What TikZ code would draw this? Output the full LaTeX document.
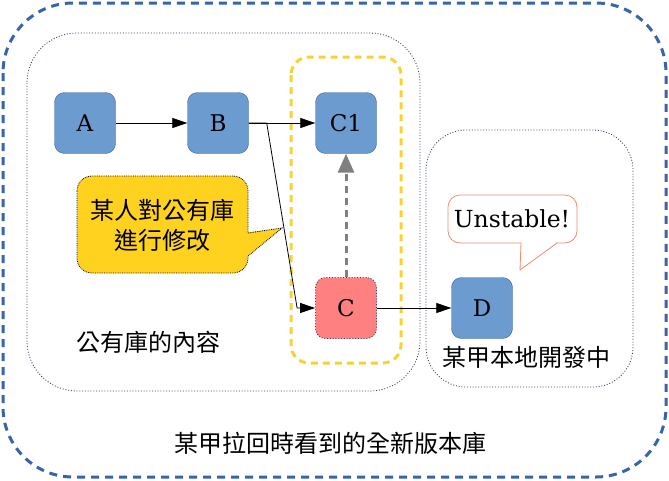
\documentclass[tikz,border=0pt]{standalone}
\usepackage{fontspec}
\setmainfont{DejaVu Serif}
\newfontfamily\cjk{Noto Sans CJK TC}
\usetikzlibrary{arrows.meta}

\definecolor{commitblue}{RGB}{108,155,208}
\definecolor{commitedge}{RGB}{62,100,158}
\definecolor{conflictred}{RGB}{255,128,128}
\definecolor{repoblue}{RGB}{58,100,168}
\definecolor{areaedge}{RGB}{45,60,95}
\definecolor{markyellow}{RGB}{247,210,50}
\definecolor{noteyellow}{RGB}{255,210,32}
\definecolor{notesalmon}{RGB}{236,140,110}

\tikzset{
  commit/.style={draw=commitedge, fill=commitblue, rounded corners=10pt,
    minimum size=61pt, inner sep=0pt, font=\fontsize{23}{28}\selectfont},
  flow/.style={-{Triangle[length=15pt,width=10pt]}, line width=0.8pt},
  area/.style={areaedge, line width=0.8pt, dash pattern=on 1pt off 1.8pt},
  cjktext/.style={font=\cjk\fontsize{24}{30}\selectfont, inner sep=0pt},
}

\begin{document}
\begin{tikzpicture}[x=1pt,y=-1pt]
  \useasboundingbox (0,0) rectangle (669,480);
  % repository boxes
  \draw[repoblue, line width=3pt, dash pattern=on 8pt off 6pt, rounded corners=70pt] (3,3) rectangle (666,477);
  \draw[area, rounded corners=50pt] (27,33) rectangle (420,391);
  \draw[area, rounded corners=40pt] (426,130) rectangle (633,387);
  \draw[markyellow, line width=3pt, dash pattern=on 7pt off 5pt, rounded corners=18pt] (291,57) rectangle (401,363);

  % commits
  \node[commit] (A) at (85,123) {A};
  \node[commit] (B) at (218,123) {B};
  \node[commit] (C1) at (346,123) {C1};
  \node[commit, fill=conflictred, draw=areaedge, line width=0.8pt, dash pattern=on 1pt off 1.8pt] (C) at (346,308) {C};
  \node[commit] (D) at (482,308) {D};

  \draw[flow] (A) -- (B);
  \draw[flow] (B) -- (C1);
  \draw[flow] (B.east) -- ++(18,0) -- ([xshift=-18pt]C.west) -- (C.west);
  \draw[flow] (C) -- (D);
  \draw[gray, line width=3pt, dash pattern=on 7pt off 5pt, -{Triangle[length=19pt,width=16pt]}] (C) -- (C1);

  % callout on the left
  \draw[fill=noteyellow, line width=0.8pt, densely dotted, rounded corners=15pt] (77,176) rectangle (248,273);
  \fill[noteyellow] (244,233) -- (282,228) -- (248,256) -- (244,256) -- cycle;
  \draw[line width=0.8pt, densely dotted] (248,233) -- (282,228) -- (248,256);
  \node[cjktext, align=center] (edit) at (162,225) {某人對公有庫\\進行修改};

  % callout on the right
  \draw[notesalmon, fill=white, line width=0.8pt, rounded corners=12pt] (448,195) rectangle (577,243);
  \fill[white] (521,238) rectangle (556,245);
  \draw[notesalmon, line width=0.8pt] (521,243) -- (520,270) -- (557,243);
  \node[font=\fontsize{23.5}{28}\selectfont] (unstable) at (512,219) {Unstable!};

  % captions
  \node[cjktext] (public) at (148,342) {公有庫的內容};
  \node[cjktext] (local) at (526,357) {某甲本地開發中};
  \node[cjktext] (pulled) at (330,443) {某甲拉回時看到的全新版本庫};
\end{tikzpicture}
\end{document}
